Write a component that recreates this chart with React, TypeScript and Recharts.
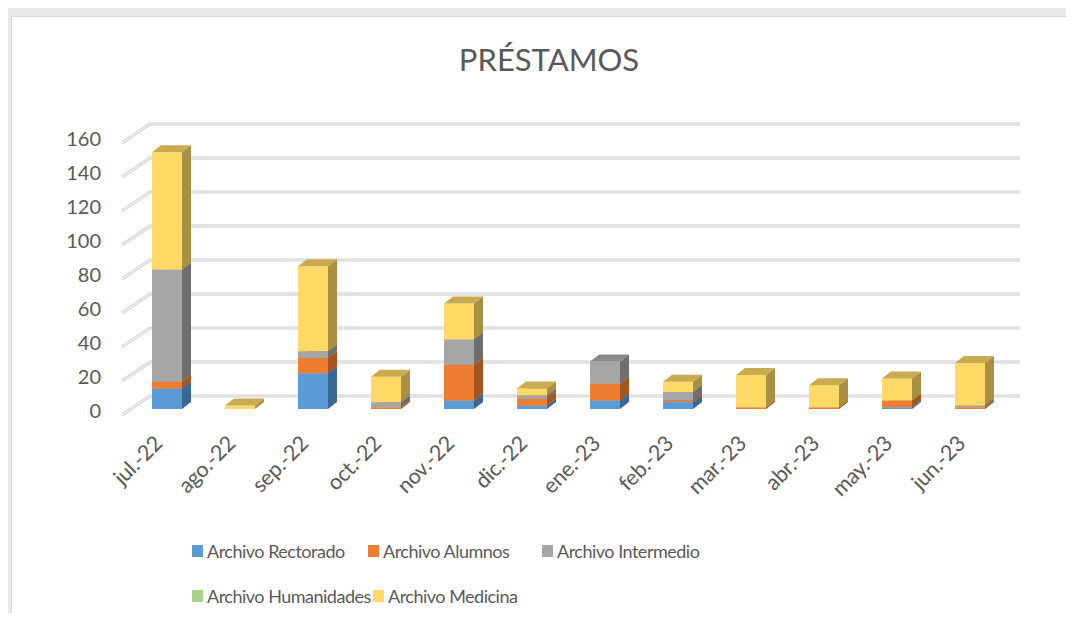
import { Bar, BarChart, CartesianGrid, Legend, XAxis, YAxis } from 'recharts';

const months = ['jul.-22', 'ago.-22', 'sep.-22', 'oct.-22', 'nov.-22', 'dic.-22', 'ene.-23', 'feb.-23', 'mar.-23', 'abr.-23', 'may.-23', 'jun.-23'];
const rectorado = [12, 0, 21, 0, 5, 2, 5, 4, 0, 0, 1, 0];
const alumnos = [4, 0, 9, 1, 21, 4, 10, 1, 1, 1, 4, 1];
const intermedio = [66, 0, 4, 3, 15, 2, 13, 5, 0, 0, 0, 1];
const humanidades = [0, 0, 0, 0, 0, 0, 0, 0, 0, 0, 0, 0];
const medicina = [69, 2, 50, 15, 21, 4, 0, 6, 19, 13, 13, 25];
const yTicks = [0, 20, 40, 60, 80, 100, 120, 140, 160];

const data = months.map((m, i) => ({
  month: m,
  rectorado: rectorado[i],
  alumnos: alumnos[i],
  intermedio: intermedio[i],
  humanidades: humanidades[i],
  medicina: medicina[i],
}));

// front / side / top colours of each series
const series = [
  { key: 'rectorado', name: 'Archivo Rectorado', front: '#5B9BD5', side: '#3C6792', top: '#4C82B4' },
  { key: 'alumnos', name: 'Archivo Alumnos', front: '#ED7D31', side: '#A5561F', top: '#C86A2A' },
  { key: 'intermedio', name: 'Archivo Intermedio', front: '#A5A5A5', side: '#6E6E6E', top: '#8A8A8A' },
  { key: 'humanidades', name: 'Archivo Humanidades', front: '#A9D18E', side: '#6F8E5B', top: '#8DB074' },
  { key: 'medicina', name: 'Archivo Medicina', front: '#FFD966', side: '#A98F42', top: '#C9AA4E' },
];

const font = 'Lato, "Liberation Sans", sans-serif';
const textColor = '#595959';
const DX = 9;
const DY = 7;

function Box3D(props: any) {
  const { x, y, width: w, height: h, front, side, top } = props;
  if (!h || h <= 0) return <g />;
  return (
    <g>
      <rect x={x} y={y} width={w} height={h} fill={front} />
      <polygon points={`${x + w},${y} ${x + w + DX},${y - DY} ${x + w + DX},${y + h - DY} ${x + w},${y + h}`} fill={side} />
      <polygon points={`${x},${y} ${x + DX},${y - DY} ${x + w + DX},${y - DY} ${x + w},${y}`} fill={top} />
    </g>
  );
}

function GridLine(p: any) {
  const { x1, y1, key } = p;
  const back = y1 - 13;
  const d = `M${x1 - 8},${y1 + 6} L${x1 + 20},${back} L1020,${back}`;
  return (
    <g key={key}>
      <path d={d} fill="none" stroke="#cfcfcf" strokeWidth={3.2} />
      <path d={d} fill="none" stroke="#f4f4f4" strokeWidth={1.2} />
    </g>
  );
}

const legendLeft = [192, 368, 542, 192, 373];
const legendTop = [540, 540, 540, 585, 585];

function LegendContent() {
  return (
    <div style={{ position: 'relative', width: 1074, height: 80 }}>
      {series.map((s, i) => (
        <div
          key={s.key}
          style={{
            position: 'absolute',
            left: legendLeft[i],
            top: legendTop[i] - 530,
            display: 'flex',
            alignItems: 'center',
            fontFamily: font,
            fontSize: 18,
            letterSpacing: -0.5,
            color: textColor,
            whiteSpace: 'nowrap',
          }}
        >
          <span style={{ width: 11, height: 12, background: s.front, marginRight: 4, display: 'inline-block' }} />
          {s.name}
        </div>
      ))}
    </div>
  );
}

export default function App() {
  return (
    <div style={{ position: 'relative', width: 1074, height: 621, margin: -8, background: '#e9e9e9', overflow: 'hidden' }}>
      <div style={{ position: 'absolute', left: 11, top: 16, width: 1063, height: 601, background: '#fff', borderLeft: '1px solid #d6d6d6', borderTop: '1px solid #d6d6d6' }} />
      <div style={{ position: 'absolute', left: 0, top: 40, width: 1098, textAlign: 'center', fontFamily: font, fontSize: 31, color: textColor }}>
        PRÉSTAMOS
      </div>
      <div style={{ position: 'absolute', left: 0, top: 0 }}>
        <BarChart width={1074} height={621} data={data} margin={{ top: 137, right: 68, bottom: 0, left: 0 }} barSize={30}>
          <CartesianGrid vertical={false} horizontal={(p: any) => <GridLine {...p} />} />
          <XAxis
            dataKey="month"
            height={212}
            axisLine={false}
            tickLine={false}
            interval={0}
            tick={(p: any) => (
              <text
                key={p.index}
                transform={`translate(${p.x - 3},445) rotate(-45)`}
                textAnchor="end"
                fontFamily={font}
                fontSize={21.5}
                letterSpacing={-0.3}
                fill={textColor}
              >
                {p.payload.value}
              </text>
            )}
          />
          <YAxis
            width={130}
            domain={[0, 160]}
            ticks={yTicks}
            axisLine={false}
            tickLine={false}
            tick={(p: any) => (
              <text key={p.index} x={101} y={p.y + 9} textAnchor="end" fontFamily={font} fontSize={20} fill={textColor}>
                {p.payload.value}
              </text>
            )}
          />
          <Legend
            layout="horizontal"
            verticalAlign="middle"
            align="center"
            wrapperStyle={{ top: 530, left: 0, width: 1074 }}
            content={() => <LegendContent />}
          />
          {series.map((s) => (
            <Bar
              key={s.key}
              dataKey={s.key}
              name={s.name}
              stackId="a"
              fill={s.front}
              isAnimationActive={false}
              shape={(p: any) => <Box3D {...p} front={s.front} side={s.side} top={s.top} />}
            />
          ))}
        </BarChart>
      </div>
    </div>
  );
}
